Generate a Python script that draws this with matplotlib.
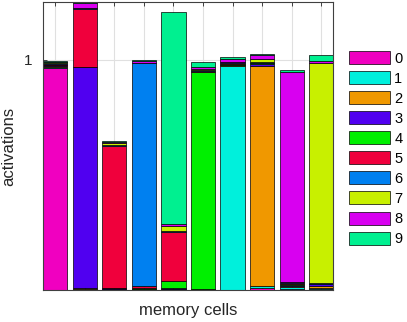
import matplotlib
matplotlib.use('Agg')
import matplotlib.pyplot as plt
import numpy as np

plt.rcParams['font.family'] = ['Liberation Sans', 'DejaVu Sans']

# activation of each class (0-9) in each of the 10 memory cells
cls0 = [0.967, 0.002, 0.002, 0.001, 0.002, 0.001, 0.002, 0.008, 0.004, 0.006]
cls1 = [0.002, 0.003, 0.002, 0.001, 0.002, 0.001, 0.971, 0.008, 0.008, 0.002]
cls2 = [0.003, 0.002, 0.002, 0.001, 0.002, 0.001, 0.004, 0.958, 0.006, 0.008]
cls3 = [0.004, 0.962, 0.001, 0.001, 0.002, 0.001, 0.003, 0.010, 0.003, 0.008]
cls4 = [0.002, 0.002, 0.002, 0.005, 0.033, 0.942, 0.004, 0.002, 0.003, 0.002]
cls5 = [0.003, 0.251, 0.617, 0.007, 0.213, 0.005, 0.003, 0.002, 0.008, 0.002]
cls6 = [0.006, 0.002, 0.006, 0.970, 0.004, 0.006, 0.003, 0.002, 0.002, 0.002]
cls7 = [0.002, 0.002, 0.005, 0.002, 0.022, 0.005, 0.003, 0.013, 0.002, 0.958]
cls8 = [0.003, 0.022, 0.006, 0.008, 0.005, 0.006, 0.012, 0.018, 0.912, 0.008]
cls9 = [0.003, 0.014, 0.005, 0.002, 0.924, 0.022, 0.006, 0.004, 0.010, 0.027]

classes = [cls0, cls1, cls2, cls3, cls4, cls5, cls6, cls7, cls8, cls9]
labels = ['0', '1', '2', '3', '4', '5', '6', '7', '8', '9']
colors = ['#f000c0', '#00f0dc', '#f09800', '#5000f0', '#00f000',
          '#f0003c', '#0080f0', '#c8f000', '#d800f0', '#00f090']

cells = np.arange(1, 11)

fig = plt.figure(figsize=(4.07, 3.22), dpi=100)
ax = fig.add_axes([0.1057, 0.0994, 0.7125, 0.8944])

bottom = np.zeros(len(cells))
for vals, col, lab in zip(classes, colors, labels):
    ax.bar(cells, vals, width=0.82, bottom=bottom, color=col,
           edgecolor='black', linewidth=0.5, label=lab, zorder=2)
    bottom += np.array(vals)

ax.set_xlim(0.59, 10.4)
ax.set_ylim(0, 1.252)
ax.set_xticks(cells)
ax.set_xticklabels([])
ax.set_yticks([1])
ax.set_yticklabels(['1'], fontsize=11)
ax.tick_params(direction='in', top=True, right=True, length=3, width=0.6,
               colors='#262626')
ax.tick_params(axis='y', pad=8)
ax.grid(True, color='#e0e0e0', linewidth=0.8, zorder=0)
ax.set_axisbelow(True)
for s in ax.spines.values():
    s.set_color('#404040')
    s.set_linewidth(0.8)

ax.set_xlabel('memory cells', fontsize=12, color='#262626', labelpad=6)
ax.set_ylabel('activations', fontsize=12, color='#262626', labelpad=5)

handles, labs = ax.get_legend_handles_labels()
fig.legend(handles, labs, loc='upper left', bbox_to_anchor=(349 / 407, 1 - 51 / 322),
           frameon=False, fontsize=10.5, handlelength=2.8, handleheight=1.0,
           labelspacing=0.38, handletextpad=0.3, borderpad=0, borderaxespad=0)

fig.savefig('out.png', dpi=100)
